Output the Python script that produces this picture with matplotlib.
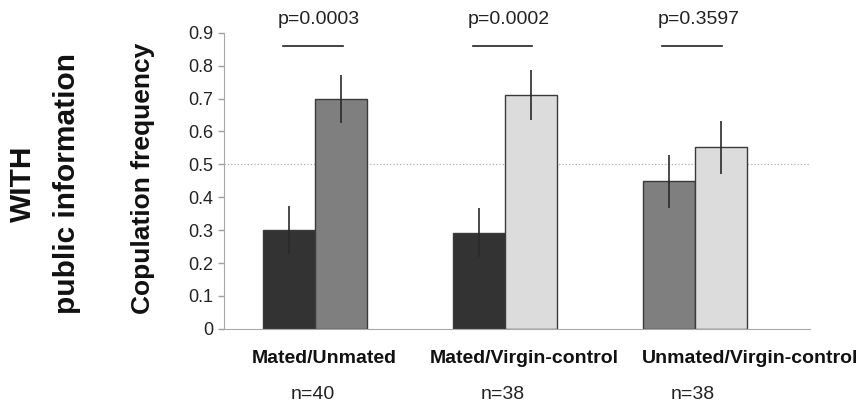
import matplotlib.pyplot as plt
import numpy as np

plt.rcParams['font.family'] = ['Liberation Sans', 'DejaVu Sans']

# data
groups = ['Mated/Unmated', 'Mated/Virgin-control', 'Unmated/Virgin-control']
n_labels = ['n=40', 'n=38', 'n=38']
p_labels = ['p=0.0003', 'p=0.0002', 'p=0.3597']
left_vals = [0.30, 0.292, 0.448]
left_err = [0.073, 0.075, 0.080]
right_vals = [0.70, 0.711, 0.552]
right_err = [0.073, 0.075, 0.080]
left_colors = ['#333333', '#333333', '#7f7f7f']
right_colors = ['#7f7f7f', '#dcdcdc', '#dcdcdc']

fig = plt.figure(figsize=(8.65, 4.05), dpi=100)
ax = fig.add_axes([0.259, 0.188, 0.677, 0.731])

x = np.arange(len(groups))
w = 0.274
ax.bar(x - w / 2, left_vals, w, color=left_colors, edgecolor='#3a3a3a', linewidth=1, zorder=2)
ax.bar(x + w / 2, right_vals, w, color=right_colors, edgecolor='#3a3a3a', linewidth=1, zorder=2)
ax.errorbar(x - w / 2, left_vals, yerr=left_err, fmt='none', ecolor='#2a2a2a', elinewidth=1.2, capsize=0, zorder=3)
ax.errorbar(x + w / 2, right_vals, yerr=right_err, fmt='none', ecolor='#2a2a2a', elinewidth=1.2, capsize=0, zorder=3)

# chance line
ax.axhline(0.5, color='#b0b0b0', linestyle=':', linewidth=0.9, zorder=1)

ax.set_xlim(-0.479, 2.605)
ax.set_ylim(0, 0.9)
ax.set_yticks(np.arange(0, 0.91, 0.1))
ax.set_yticklabels(['0'] + ['%.1f' % v for v in np.arange(0.1, 0.91, 0.1)])
ax.tick_params(axis='y', labelsize=13, colors='#a0a0a0', labelcolor='#222222', length=4, width=1)
ax.set_xticks([])
for s in ['top', 'right']:
    ax.spines[s].set_visible(False)
for s in ['left', 'bottom']:
    ax.spines[s].set_color('#a8a8a8')

# p-value bars and labels
for i, p in enumerate(p_labels):
    ax.plot([i - 0.17, i + 0.145], [0.86, 0.86], color='#222222', lw=1.2, clip_on=False)
    ax.text(i + 0.02, 0.94, p, ha='center', va='center', fontsize=14, color='#222222')

# category and n labels
label_x = [0.05, 1.1, 2.29]
for i, g in enumerate(groups):
    ax.text(label_x[i], -0.09, g, ha='center', va='center', fontsize=14, fontweight='bold', color='#111111')
    ax.text(i - 0.01, -0.2, n_labels[i], ha='center', va='center', fontsize=14, color='#222222')

fig.text(143 / 865, 1 - 178 / 405, 'Copulation frequency', rotation=90, ha='center', va='center',
         fontsize=19, fontweight='bold', color='#111111')
fig.text(23 / 865, 1 - 184 / 405, 'WITH', rotation=90, ha='center', va='center',
         fontsize=21.5, fontweight='bold', color='#111111')
fig.text(67 / 865, 1 - 184 / 405, 'public information', rotation=90, ha='center', va='center',
         fontsize=21.5, fontweight='bold', color='#111111')

fig.savefig('out.png', dpi=100)
